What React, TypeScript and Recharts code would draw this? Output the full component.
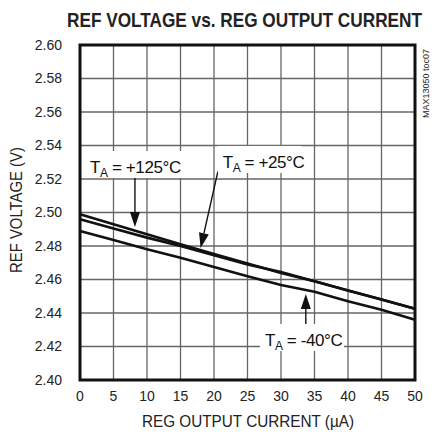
import { LineChart, Line, XAxis, YAxis, CartesianGrid, ReferenceLine, ReferenceDot, ReferenceArea } from 'recharts';

const currents = [0, 5, 10, 15, 20, 25, 30, 35, 40, 45, 50];
const vPlus125 = [2.499, 2.493, 2.487, 2.481, 2.4752, 2.4695, 2.4639, 2.459, 2.4535, 2.448, 2.4425];
const vPlus25 = [2.496, 2.4905, 2.485, 2.48, 2.4745, 2.469, 2.4645, 2.459, 2.4535, 2.448, 2.4425];
const vMinus40 = [2.489, 2.4836, 2.478, 2.473, 2.4675, 2.462, 2.4567, 2.4527, 2.447, 2.442, 2.436];

const xTicks = [0, 5, 10, 15, 20, 25, 30, 35, 40, 45, 50];
const yTicks = [2.4, 2.42, 2.44, 2.46, 2.48, 2.5, 2.52, 2.54, 2.56, 2.58, 2.6];

// annotation text anchors (data coords) and arrows (from -> tip)
const labels = [
  { x: 1.5, y: 2.5236, temp: '+125°C', w: 99 },
  { x: 21.3, y: 2.5266, temp: '+25°C', w: 84 },
  { x: 27.6, y: 2.4203, temp: '-40°C', w: 84 },
];
const arrows = [
  { x1: 8.2, y1: 2.5218, x2: 8.2, y2: 2.4913 },
  { x1: 20.6, y1: 2.5248, x2: 18.0, y2: 2.4788 },
  { x1: 33.7, y1: 2.4299, x2: 33.7, y2: 2.4513 },
];

const data = currents.map((c, i) => ({
  current: c,
  t125: vPlus125[i],
  t25: vPlus25[i],
  tm40: vMinus40[i],
}));

const FONT = "'Liberation Sans', Arial, sans-serif";

const Arrow = (props: any) => {
  const { x1, y1, x2, y2 } = props;
  const ang = Math.atan2(y2 - y1, x2 - x1);
  const len = 15;
  const half = 5;
  const bx = x2 - len * Math.cos(ang);
  const by = y2 - len * Math.sin(ang);
  const px = -Math.sin(ang) * half;
  const py = Math.cos(ang) * half;
  return (
    <g>
      <line x1={x1} y1={y1} x2={bx} y2={by} stroke="#111" strokeWidth={1.4} />
      <polygon points={`${x2},${y2} ${bx + px},${by + py} ${bx - px},${by - py}`} fill="#111" />
    </g>
  );
};

const makeLabel = (temp: string, w: number) => (props: any) => {
  const { cx, cy } = props;
  return (
    <g>
      <rect x={cx - 5} y={cy - 22} width={w} height={27} fill="#fff" />
      <text x={cx} y={cy} fontSize={17} fontFamily={FONT} fill="#111" letterSpacing={-0.4}>
        T
        <tspan fontSize={12} dy={4}>A</tspan>
        <tspan dy={-4}>{` = ${temp}`}</tspan>
      </text>
    </g>
  );
};

export default function App() {
  return (
    <div style={{ position: 'absolute', left: 0, top: 0, width: 434, height: 447, background: '#fff', fontFamily: FONT }}>
      <svg width={434} height={447} style={{ position: 'absolute', left: 0, top: 0, pointerEvents: 'none' }}>
        <text transform="translate(67,27) scale(0.82,1)" fontSize={21} fontWeight="bold" fontFamily={FONT} fill="#222">
          REF VOLTAGE vs. REG OUTPUT CURRENT
        </text>
        <text transform="translate(429,118) rotate(-90)" fontSize={9} fontFamily={FONT} fill="#222">
          MAX13050 toc07
        </text>
      </svg>
      <LineChart
        width={434}
        height={447}
        data={data}
        margin={{ top: 45, right: 19, bottom: 0, left: 0 }}
        style={{ position: 'absolute', left: 0, top: 0 }}
      >
        <CartesianGrid stroke="#666" strokeWidth={1.3} />
        <XAxis
          dataKey="current"
          type="number"
          domain={[0, 50]}
          ticks={xTicks}
          height={67}
          tickSize={0}
          tickMargin={11}
          axisLine={false}
          tick={{ fill: '#222', fontSize: 14, fontFamily: FONT }}
          label={{
            content: () => (
              <text transform="translate(248,427) scale(0.9,1)" textAnchor="middle" fontSize={17} fontFamily={FONT} fill="#222">
                REG OUTPUT CURRENT (µA)
              </text>
            ),
          }}
        />
        <YAxis
          type="number"
          domain={[2.4, 2.6]}
          ticks={yTicks}
          width={80}
          tickSize={0}
          tickMargin={18}
          axisLine={false}
          tickFormatter={(v: number) => v.toFixed(2)}
          tick={{ fill: '#222', fontSize: 14, fontFamily: FONT }}
          label={{
            content: () => (
              <text transform="translate(22,210) rotate(-90) scale(0.93,1)" textAnchor="middle" fontSize={16} fontFamily={FONT} fill="#222">
                REF VOLTAGE (V)
              </text>
            ),
          }}
        />
        {labels.map((l) => (
          <ReferenceDot key={l.temp} x={l.x} y={l.y} r={0} ifOverflow="visible" shape={makeLabel(l.temp, l.w)} />
        ))}
        <Line dataKey="t125" type="linear" stroke="#111" strokeWidth={2.6} dot={false} isAnimationActive={false} />
        <Line dataKey="t25" type="linear" stroke="#111" strokeWidth={2.6} dot={false} isAnimationActive={false} />
        <Line dataKey="tm40" type="linear" stroke="#111" strokeWidth={2.6} dot={false} isAnimationActive={false} />
        {arrows.map((a, i) => (
          <ReferenceLine
            key={i}
            segment={[{ x: a.x1, y: a.y1 }, { x: a.x2, y: a.y2 }]}
            ifOverflow="visible"
            shape={Arrow}
          />
        ))}
        <ReferenceArea x1={0} x2={50} y1={2.4} y2={2.6} fill="none" stroke="#111" strokeWidth={3} fillOpacity={0} ifOverflow="visible" />
      </LineChart>
    </div>
  );
}
